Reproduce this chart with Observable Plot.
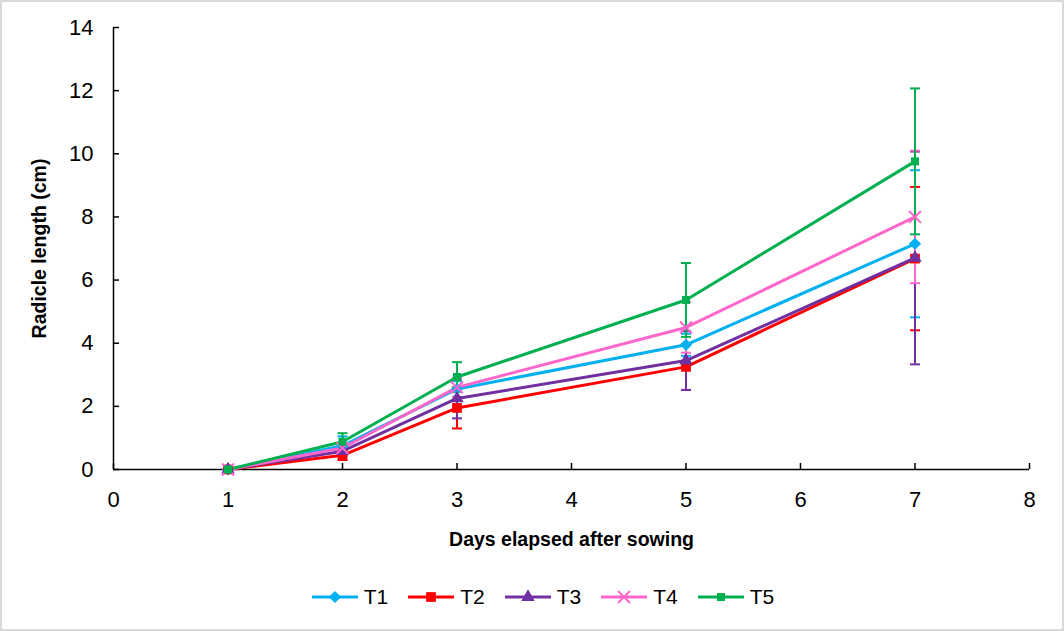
<!DOCTYPE html>
<html>
<head>
<meta charset="utf-8">
<script src="https://cdn.jsdelivr.net/npm/d3@7"></script>
<script src="https://cdn.jsdelivr.net/npm/@observablehq/plot@0.6"></script>
<style>
  html, body { margin: 0; padding: 0; background: #fff; }
  body { width: 1064px; height: 631px; position: relative; overflow: hidden; font-family: "Liberation Sans", Arial, sans-serif; }
  #border { position: absolute; left: 0; top: 0; width: 1064px; height: 631px; box-sizing: border-box; border: 2px solid #d9d9d9; pointer-events: none; }
  #chart svg { display: block; }
  #chart [aria-label="x-axis label"] text, #chart [aria-label="y-axis label"] text {
    font-family: "Liberation Sans", Arial, sans-serif; font-weight: bold; font-size: 19.5px; fill: #000;
  }
  #legend { position: absolute; left: 8px; top: 585px; width: 1064px; display: flex; justify-content: center; align-items: center; font-size: 21px; color: #000; }
  .item { display: flex; align-items: center; margin: 0 7px 0 12px; }
  .item svg { margin-right: 5px; }
</style>
</head>
<body>
<div id="chart"></div>
<div id="legend"></div>
<div id="border"></div>
<script>
const days = [1, 2, 3, 5, 7];
const seriesNames = ["T1", "T2", "T3", "T4", "T5"];
const T1 = [0, 0.75, 2.55, 3.95, 7.15];
const T2 = [0, 0.45, 1.95, 3.25, 6.68];
const T3 = [0, 0.58, 2.25, 3.45, 6.70];
const T4 = [0, 0.68, 2.60, 4.50, 8.00];
const T5 = [0, 0.88, 2.93, 5.37, 9.76];
const errT1 = [0, 0.30, 0.25, 0.35, 2.33];
const errT2 = [0, 0.15, 0.65, 0.73, 2.27];
const errT3 = [0, 0.15, 0.63, 0.93, 3.37];
const errT4 = [0, 0.15, 0.30, 0.80, 2.10];
const errT5 = [0, 0.27, 0.47, 1.17, 2.31];
const xTicks = [0, 1, 2, 3, 4, 5, 6, 7, 8];
const yTicks = [0, 2, 4, 6, 8, 10, 12, 14];

const colors = {T1: "#00b0f0", T2: "#ff0000", T3: "#7030a0", T4: "#ff66cc", T5: "#00b050"};
const means = {T1, T2, T3, T4, T5};
const errs = {T1: errT1, T2: errT2, T3: errT3, T4: errT4, T5: errT5};

const rows = [];
for (const s of seriesNames) {
  days.forEach((d, i) => rows.push({series: s, day: d, value: means[s][i], err: errs[s][i]}));
}

const capSymbol = {
  draw(ctx, size) { const w = Math.sqrt(size / Math.PI); ctx.moveTo(-w, 0); ctx.lineTo(w, 0); }
};

const markerOpts = {
  T1: {symbol: "diamond2", r: 5.5, fill: colors.T1, stroke: null},
  T2: {symbol: "square", r: 5.5, fill: colors.T2, stroke: null},
  T3: {symbol: "triangle", r: 5, fill: colors.T3, stroke: null},
  T4: {symbol: "times", r: 5.5, fill: "none", stroke: colors.T4, strokeWidth: 2},
  T5: {symbol: "square", r: 4.5, fill: colors.T5, stroke: null}
};

const marks = [];
// error bars
for (const s of seriesNames) {
  const data = rows.filter(r => r.series === s && r.err > 0);
  marks.push(Plot.ruleX(data, {x: "day", y1: d => d.value - d.err, y2: d => d.value + d.err, stroke: colors[s], strokeWidth: 2}));
  marks.push(Plot.dot(data, {x: "day", y: d => d.value + d.err, symbol: capSymbol, r: 5, stroke: colors[s], strokeWidth: 2, fill: "none"}));
  marks.push(Plot.dot(data, {x: "day", y: d => d.value - d.err, symbol: capSymbol, r: 5, stroke: colors[s], strokeWidth: 2, fill: "none"}));
}
// lines
for (const s of seriesNames) {
  const data = rows.filter(r => r.series === s);
  marks.push(Plot.line(data, {x: "day", y: "value", stroke: colors[s], strokeWidth: 3}));
}
// markers
for (const s of seriesNames) {
  const data = rows.filter(r => r.series === s);
  marks.push(Plot.dot(data, {x: "day", y: "value", ...markerOpts[s]}));
}

const chart = Plot.plot({
  width: 1064,
  height: 575,
  marginLeft: 113,
  marginRight: 35,
  marginTop: 27,
  marginBottom: 106,
  style: {fontFamily: "'Liberation Sans', Arial, sans-serif", fontSize: "22px", color: "#000", background: "transparent"},
  x: {domain: [0, 8]},
  y: {domain: [0, 14]},
  marks: [
    Plot.axisX({ticks: xTicks, tickSize: -6, tickPadding: 28, tickFormat: d => String(d), label: "Days elapsed after sowing", labelAnchor: "center", labelOffset: 76, labelArrow: "none", strokeWidth: 1.5}),
    Plot.axisY({ticks: yTicks, tickSize: -6, tickPadding: 26, tickFormat: d => String(d), label: "Radicle length (cm)", labelAnchor: "center", labelOffset: 81, labelArrow: "none", strokeWidth: 1.5}),
    Plot.ruleX([0], {stroke: "#000", strokeWidth: 1.5}),
    Plot.ruleY([0], {stroke: "#000", strokeWidth: 1.5}),
    ...marks
  ]
});
document.getElementById("chart").appendChild(chart);

// legend
const legend = document.getElementById("legend");
const symbolMap = {diamond2: d3.symbolDiamond2, square: d3.symbolSquare, triangle: d3.symbolTriangle, times: d3.symbolTimes};
for (const s of seriesNames) {
  const item = document.createElement("div");
  item.className = "item";
  const svg = d3.create("svg").attr("width", 48).attr("height", 20);
  svg.append("line").attr("x1", 1).attr("x2", 47).attr("y1", 10).attr("y2", 10).attr("stroke", colors[s]).attr("stroke-width", 3);
  const m = markerOpts[s];
  const size = Math.PI * m.r * m.r;
  svg.append("path").attr("d", d3.symbol(symbolMap[m.symbol], size)())
    .attr("transform", "translate(24,10)")
    .attr("fill", m.fill === "none" ? "none" : m.fill)
    .attr("stroke", m.stroke || "none")
    .attr("stroke-width", m.strokeWidth || 0);
  item.appendChild(svg.node());
  const label = document.createElement("span");
  label.textContent = s;
  item.appendChild(label);
  legend.appendChild(item);
}
</script>
</body>
</html>
